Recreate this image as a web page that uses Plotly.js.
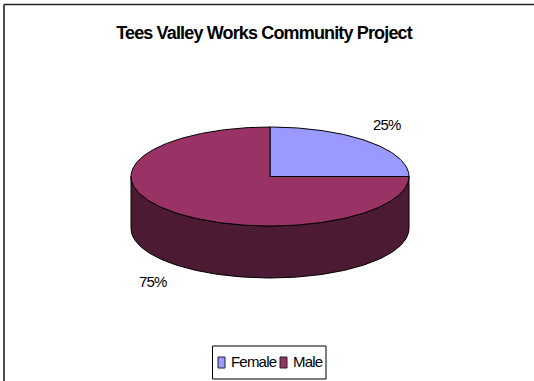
<!DOCTYPE html>
<html>
<head>
<meta charset="utf-8">
<script src="https://cdn.plot.ly/plotly-3.0.1.min.js"></script>
<style>
html,body{margin:0;padding:0;background:#fff}
#chart{width:534px;height:381px}
.gtitle{letter-spacing:-0.85px}
.annotation-text{letter-spacing:-0.8px}
</style>
</head>
<body>
<div id="chart"></div>
<script>
// Gender split of project participants
const categories = ["Female", "Male"];
const shares = [25, 75];
const percentLabels = ["25%", "75%"];
const topColors = ["#9999ff", "#993366"];
const sideColor = "#4d1a33";
const outline = "#000000";

// Oblique pie: flattened circle plus an extruded rim, on a plain pixel-sized plot area
const cx = 270, cy = 204.5, rx = 139, ry = 49.5, depth = 52;
const total = shares.reduce((a, b) => a + b, 0);

// Angles run clockwise from twelve o'clock; the y axis points up
function rimPoint(deg) {
  const t = deg * Math.PI / 180;
  return [cx + rx * Math.sin(t), cy + ry * Math.cos(t)];
}
function arc(fromDeg, toDeg) {
  const pts = [];
  for (let d = fromDeg; d < toDeg; d += 1) pts.push(rimPoint(d));
  pts.push(rimPoint(toDeg));
  return pts;
}
function poly(pts, fill, name) {
  return {
    type: "scatter", mode: "lines", x: pts.map(p => p[0]), y: pts.map(p => p[1]),
    fill: "toself", fillcolor: fill, line: {color: outline, width: 1},
    showlegend: false, hoverinfo: "text", text: name, name: name
  };
}

const traces = [];
// Rim: the front half of the ellipse, pushed down by the pie's depth
const front = arc(90, 270);
const lowered = front.map(p => [p[0], p[1] - depth]).reverse();
traces.push(poly(front.concat(lowered, [front[0]]), sideColor, categories[1]));

// Top face slices
let start = 0;
shares.forEach((v, i) => {
  const sweep = v / total * 360;
  const edge = arc(start, start + sweep);
  traces.push(poly([[cx, cy]].concat(edge, [[cx, cy]]), topColors[i], categories[i]));
  start += sweep;
});

const annotations = [];
const textFont = {family: "Liberation Sans, Arial, sans-serif", size: 15, color: "#000"};

// Legend keys
const swatchX = [221.5, 283.5];
const labelX = [230, 291.5];
const legendBoxY = [2, 35];
const swatchY = [13, 24];
categories.forEach((c, i) => annotations.push({
  x: labelX[i], y: 20, xref: "x", yref: "y", text: c, showarrow: false,
  xanchor: "left", yanchor: "middle", font: textFont, borderpad: 0
}));

// Percentage labels outside the pie
const labelPos = [[386.5, 257], [153, 100]];
percentLabels.forEach((t, i) => annotations.push({
  x: labelPos[i][0], y: labelPos[i][1], xref: "x", yref: "y", text: t, showarrow: false,
  xanchor: "center", yanchor: "middle", font: textFont, borderpad: 0
}));

const shapes = [
  // Frame: only the top and left edges are drawn
  {type: "line", xref: "x", yref: "y", x0: 4, x1: 534, y0: 376.5, y1: 376.5, line: {color: "#222", width: 1.6}, layer: "below"},
  {type: "line", xref: "x", yref: "y", x0: 4, x1: 4, y0: 0, y1: 376.5, line: {color: "#222", width: 1.6}, layer: "below"},
  {type: "rect", xref: "x", yref: "y", x0: 212.5, x1: 326, y0: legendBoxY[0], y1: legendBoxY[1], line: {color: "#000", width: 1}, fillcolor: "#fff", layer: "below"}
];
swatchX.forEach((x, i) => shapes.push({
  type: "rect", xref: "x", yref: "y", x0: x - 3.5, x1: x + 3.5, y0: swatchY[0], y1: swatchY[1],
  line: {color: "#222", width: 1}, fillcolor: topColors[i], layer: "above"
}));

const layout = {
  width: 534, height: 381,
  margin: {l: 0, r: 0, t: 0, b: 0},
  paper_bgcolor: "#ffffff", plot_bgcolor: "#ffffff",
  title: {
    text: "<b>Tees Valley Works Community Project</b>",
    font: {family: "Liberation Sans, Arial, sans-serif", size: 18, color: "#000"},
    x: 0.4944, xanchor: "center", y: 0.914, yanchor: "middle"
  },
  xaxis: {range: [0, 534], visible: false, fixedrange: true},
  yaxis: {range: [0, 381], visible: false, fixedrange: true},
  annotations: annotations,
  showlegend: false,
  shapes: shapes
};
Plotly.newPlot("chart", traces, layout, {displayModeBar: false});
</script>
</body>
</html>
